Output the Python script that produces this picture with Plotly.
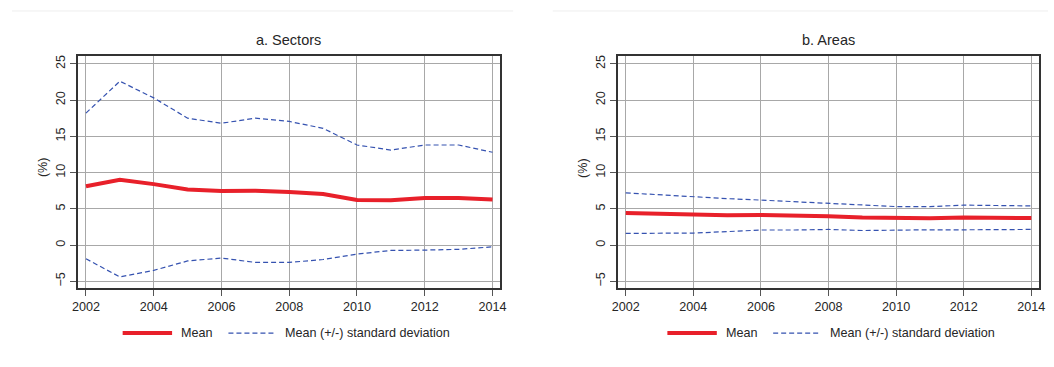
import plotly.graph_objects as go
from plotly.subplots import make_subplots

years = list(range(2002, 2015))

# Panel a: sectors
sector_mean = [8.1, 9.0, 8.4, 7.65, 7.47, 7.5, 7.33, 7.05, 6.2, 6.17, 6.5, 6.5, 6.27]
sector_upper = [18.2, 22.6, 20.3, 17.5, 16.8, 17.5, 17.05, 16.1, 13.8, 13.1, 13.8, 13.8, 12.8]
sector_lower = [-1.9, -4.4, -3.5, -2.2, -1.8, -2.4, -2.4, -2.0, -1.25, -0.75, -0.7, -0.6, -0.25]

# Panel b: areas
area_mean = [4.42, 4.3, 4.2, 4.1, 4.15, 4.1, 3.96, 3.8, 3.73, 3.7, 3.78, 3.78, 3.73]
area_upper = [7.2, 6.9, 6.7, 6.4, 6.2, 6.0, 5.8, 5.6, 5.3, 5.3, 5.5, 5.45, 5.4]
area_lower = [1.6, 1.6, 1.65, 1.85, 2.07, 2.07, 2.15, 2.0, 2.1, 2.1, 2.1, 2.15, 2.15]

panel_titles = ["a. Sectors", "b. Areas"]
legend_labels = ["Mean", "Mean (+/-) standard deviation"]
x_ticks = [2002, 2004, 2006, 2008, 2010, 2012, 2014]
y_ticks = [-5, 0, 5, 10, 15, 20, 25]

RED = "#e8202a"
BLUE = "#3552b0"
FONT = "Liberation Sans, Arial, sans-serif"
TXT = "#262626"
W, H = 1054, 367

fig = make_subplots(rows=1, cols=2)

panels = [
    (sector_mean, sector_upper, sector_lower),
    (area_mean, area_upper, area_lower),
]
for i, (m, up, lo) in enumerate(panels, start=1):
    for band in (up, lo):
        fig.add_trace(go.Scatter(x=years, y=band, mode="lines",
                                 line=dict(color=BLUE, width=1.2, dash="5px,3px"),
                                 showlegend=False, hoverinfo="skip"), row=1, col=i)
    fig.add_trace(go.Scatter(x=years, y=m, mode="lines",
                             line=dict(color=RED, width=4),
                             showlegend=False, hoverinfo="skip"), row=1, col=i)

# pixel geometry of the two plot frames
frames = [(73, 500), (619, 1045)]
top_px, bot_px = 55, 288

axis_common = dict(showline=True, mirror=True, linecolor="#333333", linewidth=1.5,
                   showgrid=True, gridcolor="#a8a8a8", gridwidth=1, zeroline=False,
                   ticks="outside", ticklen=6, tickcolor="#555555",
                   tickfont=dict(family=FONT, size=12.6, color=TXT))

for i, (l, r) in enumerate(frames, start=1):
    xa = "xaxis" if i == 1 else "xaxis2"
    ya = "yaxis" if i == 1 else "yaxis2"
    fig.layout[xa].update(domain=[l / W, r / W], range=[2001.77, 2014.23],
                          tickvals=x_ticks, **axis_common)
    fig.layout[ya].update(domain=[1 - bot_px / H, 1 - top_px / H], range=[-5.96, 26.1],
                          tickvals=y_ticks, tickangle=-90, **axis_common)


def note(text, xp, yp, size, xanchor="center", angle=0):
    return dict(text=text, x=xp / W, y=1 - yp / H, xref="paper", yref="paper",
                showarrow=False, xanchor=xanchor, yanchor="middle", textangle=angle,
                font=dict(family=FONT, size=size, color=TXT))


annotations = []
shapes = []
title_x = [286, 832]
ylab_x = [37, 583]
legend_x = [118, 669]
for k in range(2):
    annotations.append(note(panel_titles[k], title_x[k], 39, 14.5))
    annotations.append(note("(%)", ylab_x[k], 167, 12.6, angle=-90))
    lx = legend_x[k]
    ly = 333
    shapes.append(dict(type="line", xref="paper", yref="paper",
                       x0=lx / W, x1=(lx + 50) / W, y0=1 - ly / H, y1=1 - ly / H,
                       line=dict(color=RED, width=4)))
    annotations.append(note(legend_labels[0], lx + 57, ly, 12.6, xanchor="left"))
    shapes.append(dict(type="line", xref="paper", yref="paper",
                       x0=(lx + 107) / W, x1=(lx + 155) / W, y0=1 - ly / H, y1=1 - ly / H,
                       line=dict(color=BLUE, width=1.2, dash="5px,3px")))
    annotations.append(note(legend_labels[1], lx + 162, ly, 12.6, xanchor="left"))

# faint separator lines along the top of each panel
for x0, x1 in [(6, 513), (553, 1054)]:
    shapes.append(dict(type="line", xref="paper", yref="paper",
                       x0=x0 / W, x1=x1 / W, y0=1 - 10 / H, y1=1 - 10 / H,
                       line=dict(color="#eeeeee", width=1)))

fig.update_layout(width=W, height=H, margin=dict(l=0, r=0, t=0, b=0),
                  paper_bgcolor="white", plot_bgcolor="white",
                  annotations=annotations, shapes=shapes, showlegend=False)

fig.write_html("out.html")
